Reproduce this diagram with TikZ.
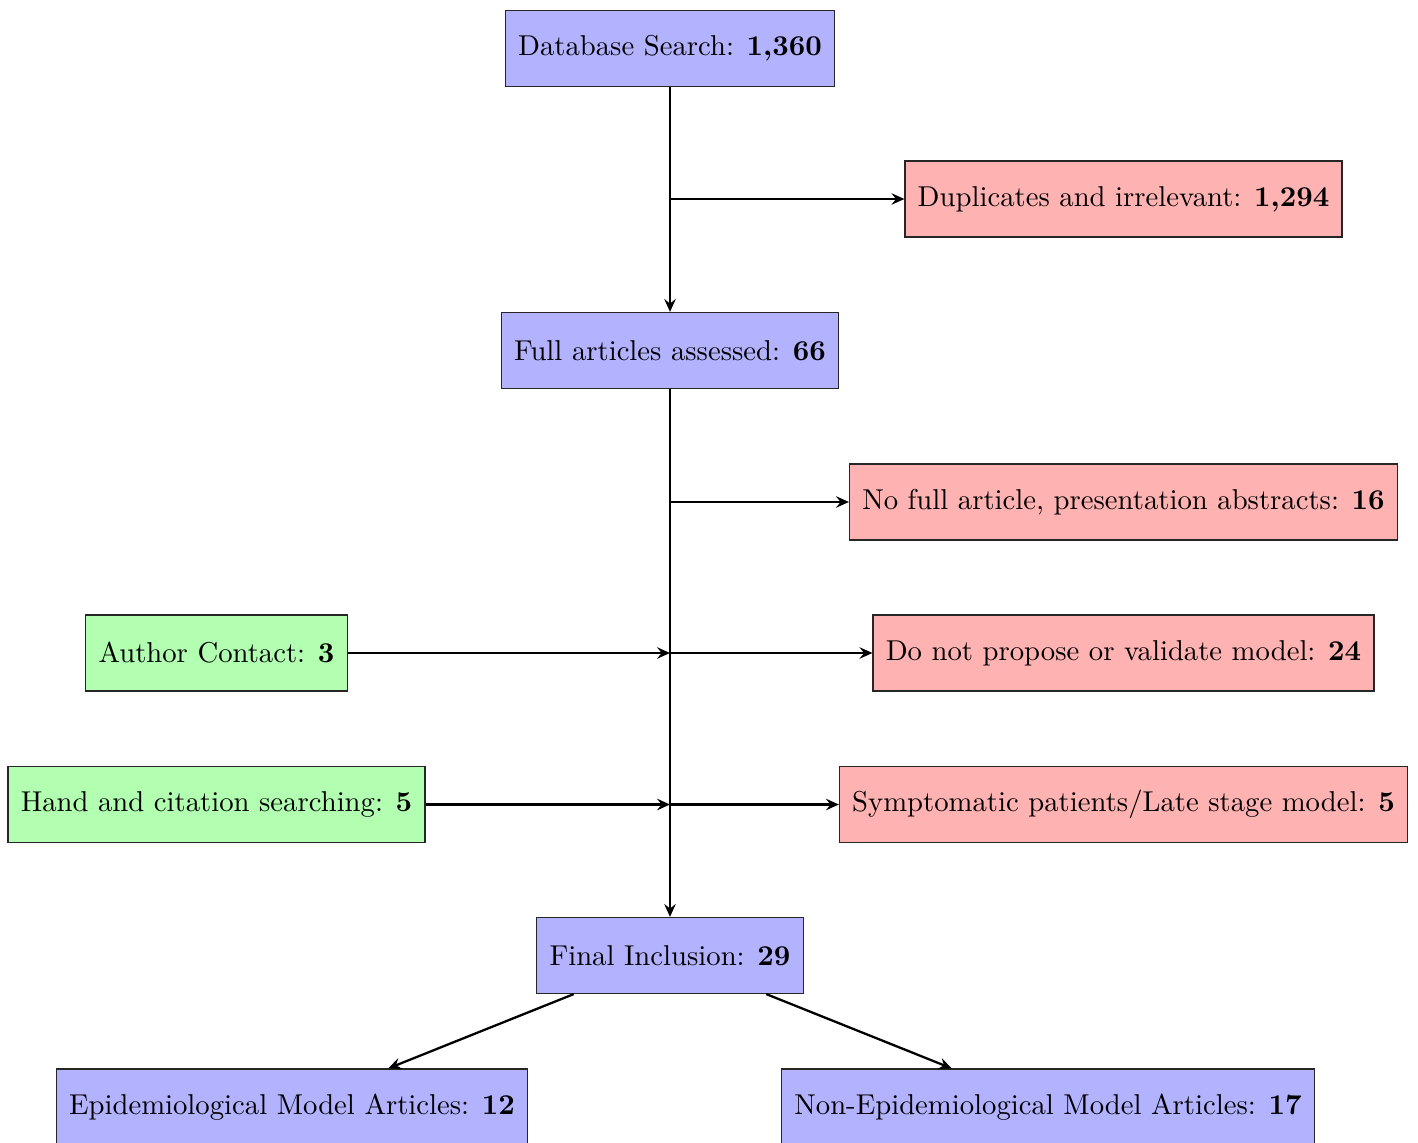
\documentclass[tikz,border=0pt]{standalone}
\usetikzlibrary{arrows.meta}
\begin{document}
\begin{tikzpicture}[x=0.3484pt,y=-0.3484pt,
  boxbase/.style={draw=black!85, minimum height=26.5pt, inner xsep=4.45pt, font=\normalsize},
  bluebox/.style={boxbase, fill=blue!30},
  redbox/.style={boxbase, fill=red!30},
  greenbox/.style={boxbase, fill=green!30},
  conn/.style={thick, -{Stealth[length=4.5pt,width=4pt,inset=1.6pt]}},
  plain/.style={thick}]
\useasboundingbox (0,0) rectangle (1418,1142);
\node[bluebox] (db) at (670,48.5) {Database Search: \textbf{1,360}};
\node[redbox] (dup) at (1123.5,199) {Duplicates and irrelevant: \textbf{1,294}};
\node[bluebox] (full) at (670,350.5) {Full articles assessed: \textbf{66}};
\node[redbox] (nofull) at (1123.5,502) {No full article, presentation abstracts: \textbf{16}};
\node[redbox] (notprop) at (1123.5,653) {Do not propose or validate model: \textbf{24}};
\node[redbox] (sympt) at (1123.5,804.5) {Symptomatic patients/Late stage model: \textbf{5}};
\node[greenbox] (author) at (216.5,653) {Author Contact: \textbf{3}};
\node[greenbox] (hand) at (216.5,804.5) {Hand and citation searching: \textbf{5}};
\node[bluebox] (final) at (670,955.5) {Final Inclusion: \textbf{29}};
\node[bluebox] (epi) at (292,1107) {Epidemiological Model Articles: \textbf{12}};
\node[bluebox] (nonepi) at (1048,1107) {Non-Epidemiological Model Articles: \textbf{17}};
\coordinate (j1) at (db.south |- dup.west);
\coordinate (j2) at (full.south |- nofull.west);
\coordinate (j3) at (full.south |- notprop.west);
\coordinate (j4) at (full.south |- sympt.west);
\draw[conn] (db) -- (full);
\draw[conn] (j1) -- (dup);
\draw[conn] (full) -- (final);
\draw[conn] (j2) -- (nofull);
\draw[conn] (author) -- (j3);
\draw[conn] (j3) -- (notprop);
\draw[conn] (hand) -- (j4);
\draw[conn] (j4) -- (sympt);
\draw[conn] (final) -- (epi);
\draw[conn] (final) -- (nonepi);
\end{tikzpicture}
\end{document}
